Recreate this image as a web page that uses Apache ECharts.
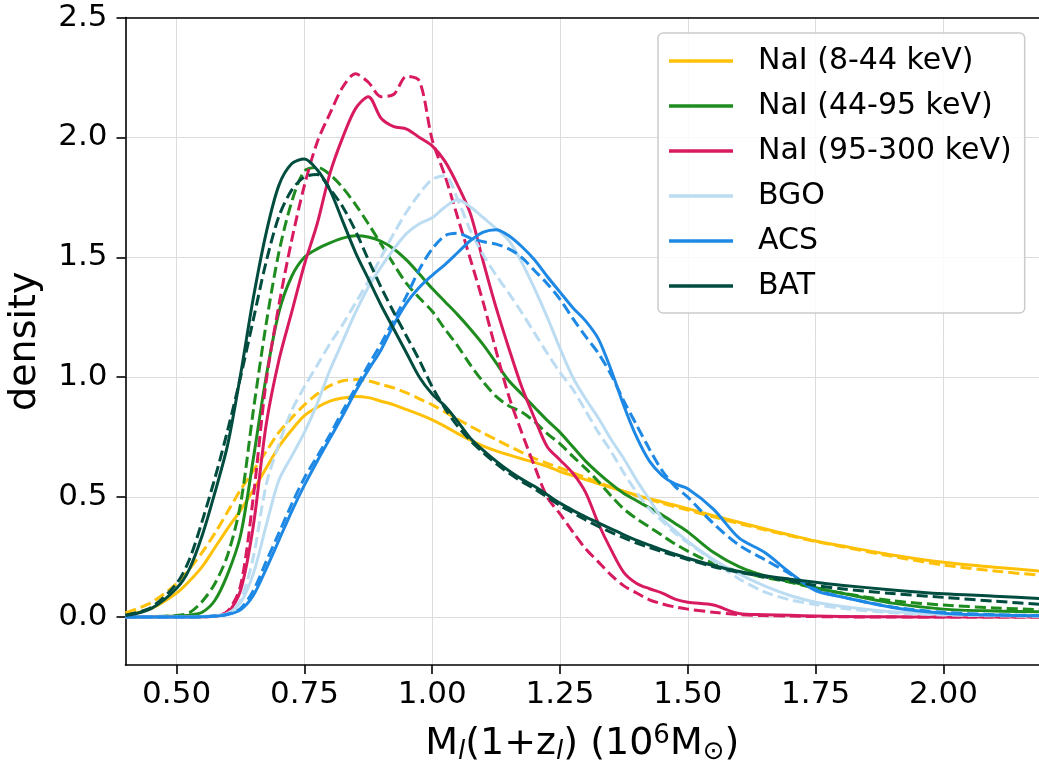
<!DOCTYPE html>
<html>
<head>
<meta charset="utf-8">
<script src="https://cdn.jsdelivr.net/npm/echarts@6/dist/echarts.min.js"></script>
<style>
html,body{margin:0;padding:0;background:#fff;}
#chart{width:1039px;height:766px;}
</style>
</head>
<body>
<div id="chart"></div>
<script>
// ---- data ----
const xs = [0.40,0.45,0.50,0.525,0.55,0.575,0.60,0.625,0.65,0.675,0.70,0.725,0.75,0.775,0.80,0.825,0.85,0.875,0.90,0.925,0.95,0.975,1.00,1.025,1.05,1.075,1.10,1.125,1.15,1.175,1.20,1.225,1.25,1.275,1.30,1.325,1.35,1.375,1.40,1.425,1.45,1.475,1.50,1.55,1.60,1.65,1.70,1.75,1.80,1.90,2.00,2.10,2.20];

const seriesNames = ['NaI (8-44 keV)','NaI (44-95 keV)','NaI (95-300 keV)','BGO','ACS','BAT'];
const seriesColors = ['#FFC107','#1E8C1E','#D81B60','#BCDCF2','#1E88E5','#004D40'];

const nai1Solid = [0.01,0.035,0.1,0.15,0.21,0.29,0.37,0.445,0.53,0.62,0.71,0.78,0.84,0.875,0.9,0.913,0.92,0.915,0.9,0.885,0.865,0.845,0.822,0.795,0.765,0.738,0.713,0.693,0.676,0.66,0.645,0.628,0.607,0.59,0.573,0.556,0.54,0.524,0.508,0.493,0.48,0.466,0.452,0.423,0.395,0.368,0.342,0.317,0.297,0.259,0.228,0.208,0.19];
const nai1Dash  = [0.018,0.06,0.14,0.2,0.27,0.35,0.44,0.53,0.61,0.69,0.77,0.83,0.885,0.93,0.965,0.985,0.99,0.985,0.97,0.955,0.935,0.91,0.885,0.855,0.825,0.795,0.767,0.74,0.713,0.687,0.662,0.641,0.622,0.602,0.582,0.562,0.542,0.524,0.506,0.49,0.475,0.46,0.446,0.418,0.39,0.364,0.339,0.315,0.294,0.253,0.217,0.192,0.172];

const nai2Solid = [0,0.001,0.004,0.008,0.02,0.07,0.18,0.34,0.66,1.0,1.27,1.42,1.5,1.535,1.56,1.58,1.59,1.585,1.567,1.535,1.488,1.43,1.37,1.315,1.26,1.2,1.135,1.06,0.985,0.93,0.875,0.82,0.77,0.71,0.65,0.6,0.555,0.515,0.485,0.455,0.425,0.39,0.355,0.27,0.21,0.172,0.148,0.122,0.1,0.058,0.033,0.025,0.022];
const nai2Dash  = [0,0.002,0.006,0.018,0.065,0.14,0.26,0.47,0.86,1.22,1.52,1.73,1.86,1.875,1.845,1.79,1.72,1.64,1.555,1.47,1.39,1.33,1.275,1.2,1.13,1.05,0.98,0.92,0.88,0.855,0.815,0.765,0.722,0.67,0.62,0.565,0.505,0.45,0.41,0.375,0.34,0.305,0.275,0.223,0.19,0.165,0.145,0.12,0.1,0.068,0.05,0.038,0.03];

const nai3Solid = [0,0,0,0,0.001,0.004,0.018,0.11,0.38,0.8,1.07,1.27,1.47,1.64,1.85,2.0,2.12,2.17,2.08,2.045,2.035,2.0,1.965,1.9,1.8,1.68,1.48,1.29,1.12,0.96,0.83,0.71,0.655,0.6,0.52,0.39,0.28,0.185,0.14,0.118,0.1,0.075,0.062,0.05,0.015,0.01,0.007,0.004,0.002,0.001,0,0,0];
const nai3Dash  = [0,0,0,0,0.001,0.004,0.025,0.13,0.5,0.98,1.3,1.57,1.8,1.98,2.1,2.21,2.265,2.23,2.17,2.18,2.255,2.235,1.99,1.84,1.665,1.49,1.31,1.11,0.92,0.77,0.63,0.5,0.43,0.355,0.285,0.23,0.175,0.13,0.1,0.072,0.055,0.042,0.033,0.02,0.01,0.006,0.004,0.002,0.001,0,0,0,0];

const bgoSolid = [0,0,0,0,0.002,0.006,0.015,0.06,0.18,0.38,0.57,0.67,0.77,0.89,1.03,1.15,1.27,1.375,1.46,1.535,1.6,1.64,1.665,1.71,1.74,1.71,1.665,1.62,1.57,1.48,1.37,1.25,1.12,1.0,0.91,0.83,0.74,0.66,0.57,0.49,0.41,0.36,0.315,0.24,0.18,0.13,0.09,0.062,0.045,0.022,0.012,0.007,0.004];
const bgoDash  = [0,0,0,0,0.001,0.004,0.012,0.07,0.25,0.55,0.72,0.86,0.96,1.05,1.14,1.22,1.31,1.4,1.5,1.6,1.69,1.765,1.825,1.84,1.74,1.61,1.51,1.425,1.35,1.27,1.185,1.1,1.02,0.95,0.86,0.77,0.69,0.6,0.52,0.45,0.4,0.35,0.31,0.235,0.16,0.105,0.072,0.052,0.037,0.018,0.009,0.005,0.003];

const acsSolid = [0,0,0,0,0.001,0.004,0.01,0.03,0.09,0.2,0.32,0.44,0.55,0.65,0.745,0.84,0.94,1.03,1.115,1.22,1.31,1.375,1.425,1.47,1.52,1.57,1.605,1.615,1.59,1.545,1.49,1.42,1.355,1.29,1.235,1.16,1.03,0.88,0.75,0.65,0.59,0.555,0.535,0.45,0.33,0.27,0.185,0.11,0.084,0.04,0.016,0.008,0.005];
const acsDash  = [0,0,0,0,0.001,0.004,0.012,0.035,0.11,0.23,0.35,0.47,0.58,0.67,0.76,0.86,0.955,1.05,1.14,1.24,1.34,1.45,1.535,1.59,1.6,1.58,1.565,1.555,1.535,1.5,1.445,1.39,1.325,1.245,1.17,1.1,1.01,0.9,0.8,0.7,0.61,0.545,0.5,0.39,0.3,0.24,0.18,0.115,0.085,0.042,0.02,0.01,0.006];

const batSolid = [0.006,0.035,0.12,0.2,0.34,0.52,0.72,1.01,1.33,1.6,1.8,1.89,1.91,1.865,1.78,1.65,1.52,1.41,1.3,1.2,1.1,1.0,0.93,0.88,0.815,0.745,0.695,0.65,0.61,0.575,0.545,0.51,0.475,0.445,0.418,0.393,0.368,0.343,0.32,0.3,0.28,0.262,0.245,0.215,0.19,0.172,0.158,0.145,0.133,0.113,0.097,0.087,0.076];
const batDash  = [0.008,0.04,0.14,0.24,0.4,0.58,0.78,1.0,1.24,1.48,1.67,1.78,1.835,1.845,1.785,1.71,1.61,1.49,1.375,1.27,1.17,1.07,0.96,0.87,0.795,0.735,0.685,0.64,0.6,0.565,0.535,0.5,0.465,0.435,0.405,0.378,0.353,0.33,0.308,0.29,0.272,0.256,0.24,0.21,0.187,0.168,0.15,0.132,0.118,0.098,0.082,0.066,0.052];

const xTickValues = [0.50,0.75,1.00,1.25,1.50,1.75,2.00];
const yTickValues = [0.0,0.5,1.0,1.5,2.0,2.5];

// ---- chart ----
const FONT = 'DejaVu Sans';
const solids = [nai1Solid,nai2Solid,nai3Solid,bgoSolid,acsSolid,batSolid];
const dashes = [nai1Dash,nai2Dash,nai3Dash,bgoDash,acsDash,batDash];

const series = [];
seriesNames.forEach((name,i)=>{
  const c = seriesColors[i];
  series.push({
    name: name, type:'line', showSymbol:false, smooth:0.3,
    data: xs.map((x,k)=>[x, solids[i][k]]),
    itemStyle:{color:c}, lineStyle:{color:c, width:3, join:'round'}, z: 2 + i*2
  });
  series.push({
    name: name + ' (dashed)', type:'line', showSymbol:false, smooth:0.3,
    data: xs.map((x,k)=>[x, dashes[i][k]]),
    itemStyle:{color:c}, lineStyle:{color:c, width:3, type:[11,5], join:'round'}, z: 3 + i*2
  });
});

const chart = echarts.init(document.getElementById('chart'), null, {renderer:'canvas'});
chart.setOption({
  animation:false,
  backgroundColor:'#fff',
  grid:{left:125.5, right:0, top:17.5, bottom:101, containLabel:false, outerBoundsMode:'none'},
  legend:{
    data: seriesNames, orient:'vertical', left:658, top:33,
    padding:[10,13,9,11], itemWidth:64, itemHeight:3.5, itemGap:9, icon:'rect',
    backgroundColor:'rgba(255,255,255,0.85)', borderColor:'#cccccc', borderWidth:1.5, borderRadius:5,
    textStyle:{fontSize:30, lineHeight:36, color:'#000', fontFamily:FONT, padding:[0,0,0,20]}
  },
  xAxis:[{
    type:'value', min:0.4, max:2.187, position:'bottom',
    axisLine:{show:true, onZero:false, lineStyle:{color:'#000', width:1.6}},
    axisTick:{show:true, length:9, customValues:xTickValues, lineStyle:{color:'#000', width:1.6}},
    axisLabel:{customValues:xTickValues, formatter:v=>v.toFixed(2), fontSize:31, color:'#000', margin:14, fontFamily:FONT},
    splitLine:{show:true, lineStyle:{color:'#dcdcdc', width:1}},
    name:'M{s|l}(1+z{s|l}) (10{p|6}M{o|⊙})', nameLocation:'middle', nameGap:58,
    nameTextStyle:{fontSize:38, lineHeight:42, color:'#000', fontFamily:FONT,
      rich:{
        s:{fontSize:26, lineHeight:24, verticalAlign:'bottom', fontStyle:'italic', color:'#000', fontFamily:FONT},
        p:{fontSize:26, lineHeight:28, verticalAlign:'top', color:'#000', fontFamily:FONT},
        o:{fontSize:26, lineHeight:24, verticalAlign:'bottom', color:'#000', fontFamily:FONT}
      }}
  },{
    type:'value', min:0.4, max:2.187, position:'top',
    axisLine:{show:true, onZero:false, lineStyle:{color:'#000', width:1.6}},
    axisTick:{show:false}, axisLabel:{show:false}, splitLine:{show:false}
  }],
  yAxis:{
    type:'value', min:-0.2, max:2.5,
    axisLine:{show:true, onZero:false, lineStyle:{color:'#000', width:1.6}},
    axisTick:{show:true, length:9, customValues:yTickValues, lineStyle:{color:'#000', width:1.6}},
    axisLabel:{customValues:yTickValues, formatter:v=>v.toFixed(1), fontSize:31, color:'#000', margin:18, fontFamily:FONT},
    splitLine:{show:true, lineStyle:{color:'#dcdcdc', width:1}},
    name:'density', nameLocation:'middle', nameGap:76,
    nameTextStyle:{fontSize:38, lineHeight:44, color:'#000', fontFamily:FONT}
  },
  series: series
});
</script>
</body>
</html>
